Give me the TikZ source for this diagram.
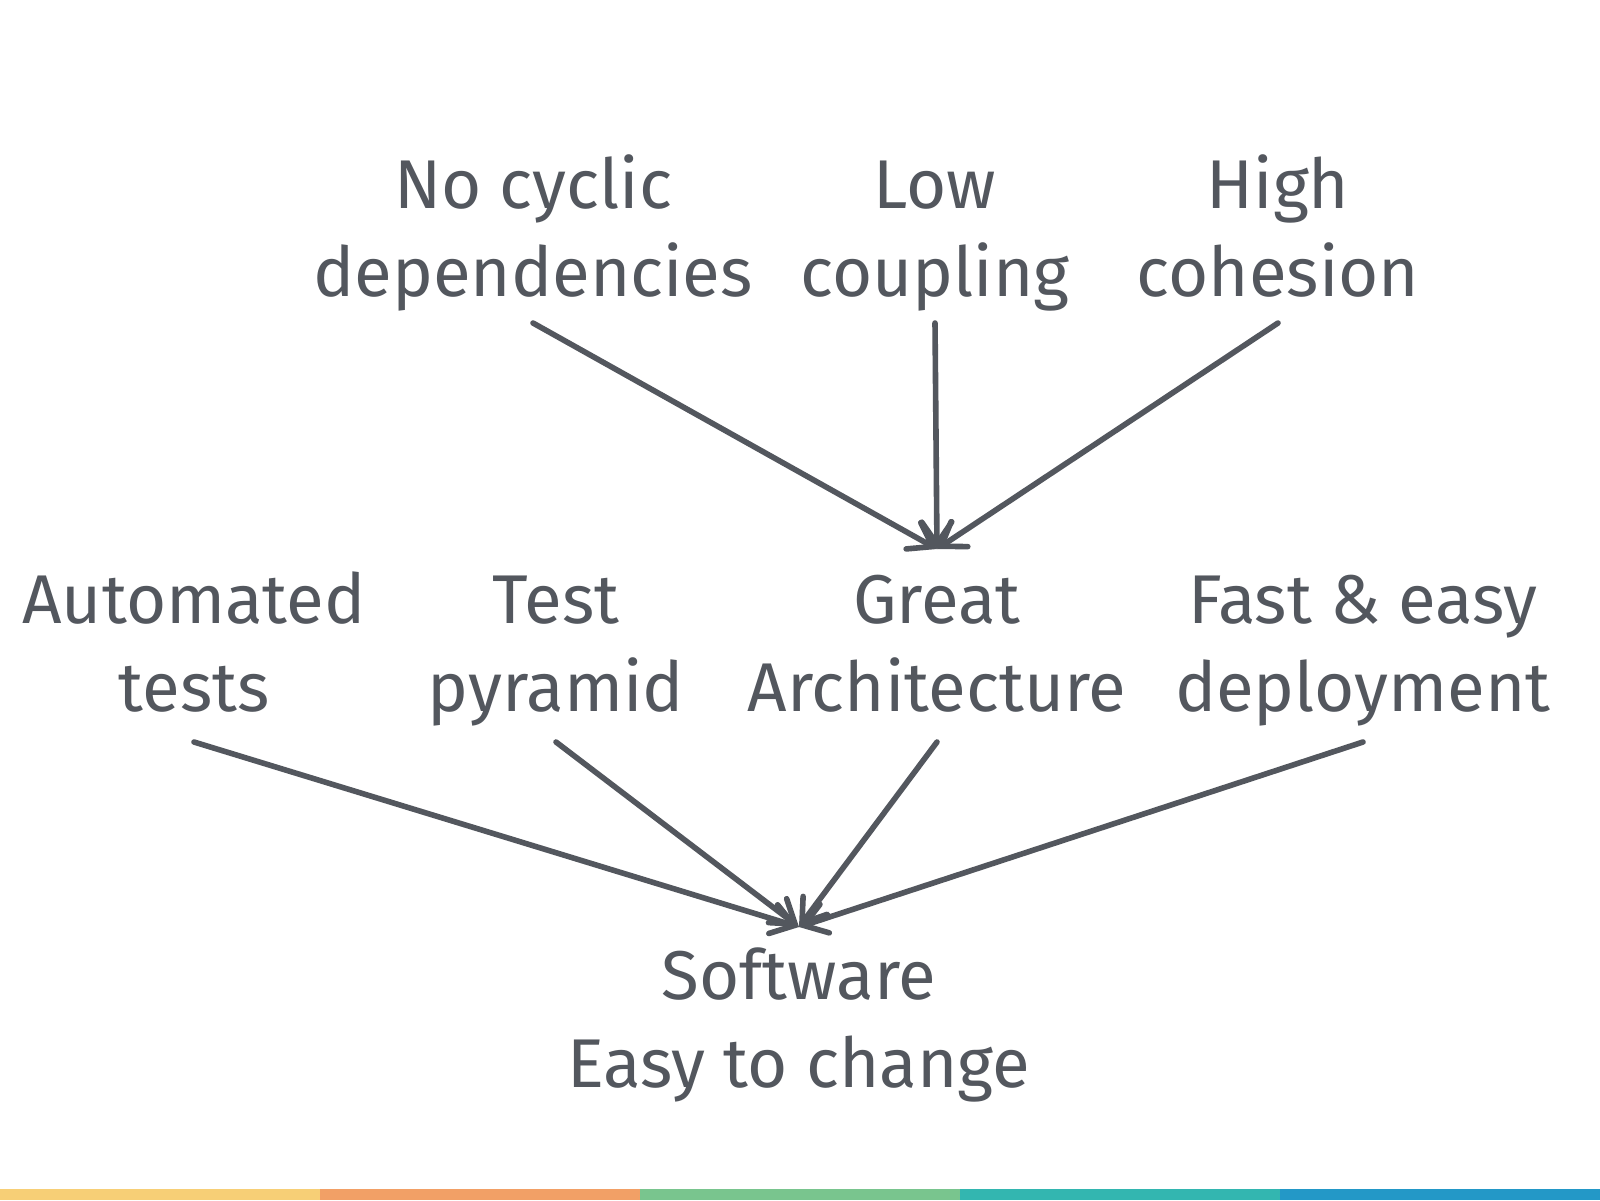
\documentclass[tikz,border=0pt]{standalone}
\usepackage{fontspec}
\setmainfont{Fira Sans}
\usetikzlibrary{arrows.meta}
\definecolor{txtgray}{RGB}{83,87,94}
\definecolor{baryellow}{RGB}{247,207,118}
\definecolor{barorange}{RGB}{242,160,102}
\definecolor{bargreen}{RGB}{121,197,142}
\definecolor{barteal}{RGB}{51,182,176}
\definecolor{barblue}{RGB}{35,152,199}

\begin{document}
\begin{tikzpicture}[x=0.5pt,y=-0.5pt,
  goal/.style={align=center,text=txtgray,inner sep=0pt,anchor=base,
    font=\fontsize{34.5}{44}\selectfont},
  leadsto/.style={draw=txtgray,line width=2.8pt,line cap=round,
    -{Straight Barb[length=11pt,width=15pt,line cap=round]}}]
\useasboundingbox (0,0) rectangle (1600,1200);
\fill[white] (0,0) rectangle (1600,1200);
% colour strip at the foot
\fill[baryellow] (0,1189) rectangle (320,1200);
\fill[barorange] (320,1189) rectangle (640,1200);
\fill[bargreen] (640,1189) rectangle (960,1200);
\fill[barteal] (960,1189) rectangle (1280,1200);
\fill[barblue] (1280,1189) rectangle (1600,1200);

% base = baseline of the last line
\node[goal] (cyclic) at (533,296) {No cyclic\\dependencies};
\node[goal] (coupling) at (935,296) {Low\\coupling};
\node[goal] (cohesion) at (1278,296) {High\\cohesion};

\node[goal] (autotests) at (194,711) {Automated\\tests};
\node[goal] (pyramid) at (556,711) {Test\\pyramid};
\node[goal] (arch) at (937,711) {Great\\Architecture};
\node[goal] (deploy) at (1363,711) {Fast \& easy\\deployment};

\node[goal] (software) at (799,1087) {Software\\Easy to change};

\draw[leadsto] ([yshift=-13.5pt]cyclic.base) -- ([yshift=81pt]arch.base);
\draw[leadsto] ([yshift=-13.5pt]coupling.base) -- ([yshift=81pt]arch.base);
\draw[leadsto] ([yshift=-13.5pt]cohesion.base) -- ([yshift=81pt]arch.base);

\draw[leadsto] ([yshift=-15.5pt]autotests.base) -- ([yshift=80pt]software.base);
\draw[leadsto] ([yshift=-15.5pt]pyramid.base) -- ([yshift=80pt]software.base);
\draw[leadsto] ([yshift=-15.5pt]arch.base) -- ([yshift=80pt]software.base);
\draw[leadsto] ([yshift=-15.5pt]deploy.base) -- ([yshift=80pt]software.base);
\end{tikzpicture}
\end{document}
